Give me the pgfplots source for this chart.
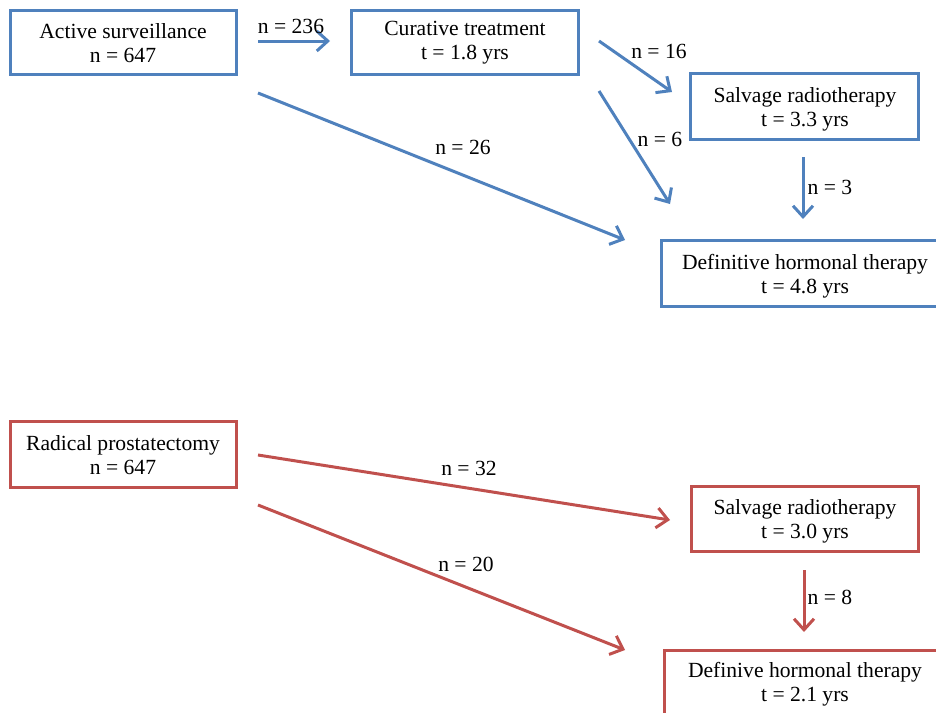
\documentclass[border=0pt]{standalone}
\usepackage{pgfplots}
\pgfplotsset{compat=1.18}
\usepackage{fontspec}
\setmainfont{Liberation Serif}
\usetikzlibrary{arrows.meta}
\definecolor{bl}{HTML}{4F81BD}
\definecolor{rd}{HTML}{C0504D}
\begin{document}
\begin{tikzpicture}[font=\fontsize{10.8pt}{12pt}\selectfont]
\begin{axis}[
  scale only axis, width=468pt, height=356pt,
  xmin=0, xmax=936, ymin=0, ymax=712, y dir=reverse,
  hide axis,
  every axis plot/.append style={line width=1.5pt, line join=miter, mark=none},
  arr/.style={-{Straight Barb[length=5.5pt,width=10pt,line width=1.5pt]}},
]
% ---- Blue boxes
\addplot[bl] coordinates {(123,10) (236,10) (236,74) (10,74) (10,10) (123,10)};
\addplot[bl] coordinates {(465,10) (578,10) (578,74) (351,74) (351,10) (465,10)};
\addplot[bl] coordinates {(804,73) (918,73) (918,139) (690,139) (690,73) (804,73)};
\addplot[bl] coordinates {(940,240) (661,240) (661,306) (940,306)};
% ---- Blue arrows
\addplot[bl,arr] coordinates {(258,41) (330,41)};
\addplot[bl,arr] coordinates {(599,41) (672,92)};
\addplot[bl,arr] coordinates {(599,91) (670,204)};
\addplot[bl,arr] coordinates {(258,93) (625,240)};
\addplot[bl,arr] coordinates {(803,157) (803,219)};
% ---- Red boxes
\addplot[rd] coordinates {(123,421) (236,421) (236,487) (10,487) (10,421) (123,421)};
\addplot[rd] coordinates {(804,486) (918,486) (918,551) (691,551) (691,486) (804,486)};
\addplot[rd] coordinates {(940,650) (664,650) (664,716)};
% ---- Red arrows
\addplot[rd,arr] coordinates {(258,455) (670,520)};
\addplot[rd,arr] coordinates {(258,505) (625,650)};
\addplot[rd,arr] coordinates {(804,570) (804,632)};
% ---- Box texts
\node[align=center] at (axis cs:123,43) {Active surveillance\\n = 647};
\node[align=center] at (axis cs:465,43) {Curative treatment\\t = 1.8 yrs};
\node[align=center] at (axis cs:805,109) {Salvage radiotherapy\\t = 3.3 yrs};
\node[align=center] at (axis cs:805,276) {Definitive hormonal therapy\\t = 4.8 yrs};
\node[align=center] at (axis cs:123,455) {Radical prostatectomy\\n = 647};
\node[align=center] at (axis cs:805,521) {Salvage radiotherapy\\t = 3.0 yrs};
\node[align=center] at (axis cs:805,684) {Definive hormonal therapy\\t = 2.1 yrs};
% ---- Arrow labels
\node at (axis cs:291,26) {n = 236};
\node at (axis cs:659,51) {n = 16};
\node at (axis cs:660,139) {n = 6};
\node at (axis cs:463,147) {n = 26};
\node at (axis cs:830,187) {n = 3};
\node at (axis cs:469,468) {n = 32};
\node at (axis cs:466,564) {n = 20};
\node at (axis cs:830,597) {n = 8};
\end{axis}
\pgfresetboundingbox
\useasboundingbox (0,0) rectangle (468pt,356pt);
\end{tikzpicture}
\end{document}
